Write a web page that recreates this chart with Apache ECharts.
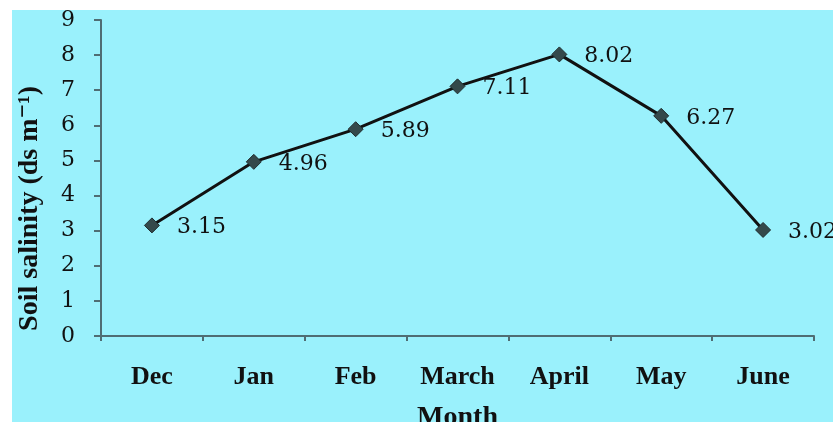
<!DOCTYPE html>
<html>
<head>
<meta charset="utf-8">
<script src="https://cdn.jsdelivr.net/npm/echarts@6/dist/echarts.min.js"></script>
<style>
  html, body { margin: 0; padding: 0; background: #ffffff; }
  #container {
    position: absolute;
    left: 12px;
    top: 10px;
    width: 821px;
    height: 412px;
  }
</style>
</head>
<body>
<div id="container"></div>
<script>
// data
const months = ['Dec', 'Jan', 'Feb', 'March', 'April', 'May', 'June']
const salinity = [3.15, 4.96, 5.89, 7.11, 8.02, 6.27, 3.02]
const yTicks = [0, 1, 2, 3, 4, 5, 6, 7, 8, 9]

const serif = '"Liberation Serif", "DejaVu Serif", serif'
const numFont = '"DejaVu Serif", serif'
const axisColor = '#4f6d73'

let options = {
  backgroundColor: '#9af1fc',
  animation: false,
  grid: {
    left: 89,
    right: 19,
    top: 10,
    bottom: 86,
    outerBoundsMode: 'none'
  },
  xAxis: {
    type: 'category',
    data: months,
    boundaryGap: true,
    name: 'Month',
    nameLocation: 'middle',
    nameGap: 68,
    nameTextStyle: {
      fontFamily: serif,
      fontWeight: 'bold',
      fontSize: 28,
      color: '#111'
    },
    axisLine: { lineStyle: { color: axisColor, width: 2 } },
    axisTick: { show: true, length: 5, lineStyle: { color: axisColor, width: 2 } },
    axisLabel: {
      margin: 28,
      fontFamily: serif,
      fontWeight: 'bold',
      fontSize: 26,
      color: '#111'
    }
  },
  yAxis: {
    type: 'value',
    min: yTicks[0],
    max: yTicks[yTicks.length - 1],
    interval: 1,
    axisLine: { show: true, lineStyle: { color: axisColor, width: 2 } },
    axisTick: { show: true, length: 7, lineStyle: { color: axisColor, width: 2 } },
    axisLabel: {
      margin: 26,
      fontFamily: numFont,
      fontSize: 22,
      color: '#111'
    },
    splitLine: { show: false }
  },
  graphic: [
    {
      type: 'text',
      left: 4,
      top: 76,
      rotation: Math.PI / 2,
      style: {
        text: 'Soil salinity (ds m\u207B\u00B9)',
        fontFamily: serif,
        fontWeight: 'bold',
        fontSize: 28,
        fill: '#111'
      }
    }
  ],
  series: [
    {
      type: 'line',
      data: salinity,
      symbol: 'diamond',
      symbolSize: 15,
      lineStyle: { color: '#111', width: 3 },
      itemStyle: { color: '#34494b', borderColor: '#1f2d2e', borderWidth: 1 },
      label: {
        show: true,
        position: 'right',
        distance: 17,
        offset: [0, 2],
        fontFamily: numFont,
        fontSize: 22,
        color: '#111'
      }
    }
  ]
}

let mychart = echarts.init(document.getElementById('container'))
mychart.setOption(options)
window.addEventListener('resize', () => { mychart.resize() })
</script>
</body>
</html>
